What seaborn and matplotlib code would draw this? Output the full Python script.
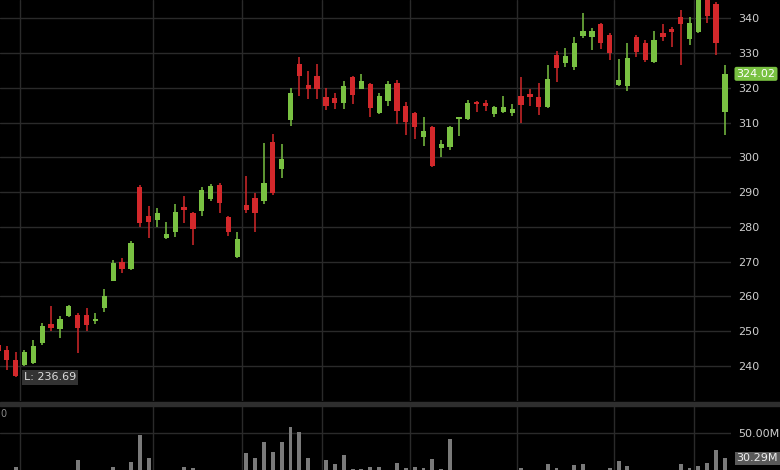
import numpy as np
import pandas as pd
import matplotlib
matplotlib.use("Agg")
import matplotlib.pyplot as plt
from matplotlib.patches import Rectangle
import seaborn as sns

# daily candles (oldest first)
opens = [245.9, 244.6, 241.7, 240.3, 240.8, 246.7, 252.1, 250.5, 254.4, 254.7,
         254.7, 252.8, 256.6, 264.5, 270.0, 267.8, 291.6, 283.0, 282.0, 276.7,
         278.6, 285.6, 284.1, 284.7, 287.9, 292.1, 282.8, 271.3, 286.3, 288.2,
         287.5, 304.5, 296.6, 310.8, 326.9, 320.8, 323.4, 317.4, 317.0, 315.5,
         323.0, 319.6, 321.1, 312.7, 316.3, 321.3, 314.8, 312.7, 305.8, 308.8,
         302.6, 302.9, 310.9, 310.9, 316.0, 315.7, 312.5, 313.1, 312.8, 317.5,
         318.1, 317.3, 314.4, 329.4, 327.0, 326.1, 334.9, 334.7, 338.4, 335.2,
         320.8, 320.5, 334.5, 332.8, 327.5, 335.9, 336.8, 340.5, 334.0, 336.1,
         346.5, 344.1, 312.9]
highs = [246.6, 245.6, 244.1, 244.6, 247.5, 252.3, 257.3, 254.4, 257.5, 255.1,
         256.6, 255.3, 262.1, 270.5, 271.0, 275.8, 292.1, 286.0, 285.4, 281.5,
         286.6, 288.9, 284.4, 291.4, 292.3, 292.5, 283.1, 278.6, 294.6, 289.7,
         304.0, 306.6, 303.8, 319.9, 328.8, 324.9, 326.9, 319.9, 318.4, 322.1,
         323.4, 324.0, 321.3, 318.4, 322.1, 322.3, 316.0, 312.9, 311.7, 309.0,
         305.0, 309.0, 311.7, 316.5, 316.3, 316.5, 314.8, 317.6, 315.3, 323.0,
         319.6, 321.5, 326.6, 330.7, 331.4, 334.5, 341.4, 337.1, 338.7, 335.7,
         328.2, 332.8, 335.2, 333.8, 336.4, 338.4, 337.6, 342.4, 340.3, 347.0,
         347.5, 344.8, 326.6]
lows = [243.8, 238.9, 236.69, 240.0, 240.6, 246.0, 249.9, 248.0, 254.0, 243.8,
        249.9, 252.1, 255.6, 264.3, 266.8, 267.6, 280.1, 276.7, 279.9, 276.4,
        277.2, 281.0, 274.8, 283.1, 287.3, 283.9, 277.4, 270.9, 283.9, 278.6,
        286.5, 289.2, 294.0, 309.0, 317.6, 316.7, 316.7, 313.6, 313.8, 313.8,
        315.4, 319.6, 311.5, 312.5, 314.8, 309.6, 306.4, 305.2, 303.3, 297.3,
        300.2, 302.1, 306.1, 310.6, 313.1, 313.4, 311.5, 312.8, 311.9, 310.0,
        314.8, 312.2, 314.1, 321.8, 326.1, 325.1, 334.2, 330.9, 331.1, 328.0,
        320.5, 319.2, 328.8, 327.5, 327.2, 333.6, 331.8, 326.6, 332.3, 335.9,
        338.6, 329.4, 306.4]
closes = [244.4, 241.7, 237.2, 244.1, 245.8, 251.5, 250.8, 253.4, 257.1, 250.8,
          251.8, 253.5, 260.1, 269.7, 267.8, 275.3, 281.2, 281.5, 283.9, 278.0,
          284.4, 284.9, 279.3, 290.6, 291.8, 287.0, 278.4, 276.4, 284.9, 284.1,
          292.7, 289.6, 299.4, 318.4, 323.4, 319.8, 319.8, 314.8, 315.7, 320.5,
          317.9, 322.1, 314.1, 317.6, 321.1, 313.4, 310.3, 308.8, 307.7, 297.5,
          303.8, 308.6, 311.5, 315.7, 315.4, 314.8, 314.4, 314.4, 313.8, 315.1,
          317.3, 314.4, 322.4, 325.6, 329.2, 332.8, 336.4, 336.4, 333.0, 330.1,
          322.3, 328.5, 330.4, 328.0, 333.8, 334.7, 336.1, 338.4, 338.7, 346.0,
          340.7, 333.0, 324.02]
# volume in millions
volumes = [18, 19, 23.3, 17, 16, 18, 19, 15, 14, 29.0,
           17, 15, 20, 23.8, 16, 27.7, 48.5, 30.3, 18, 17,
           19, 23.8, 23.0, 20, 16, 18, 20, 19, 34.7, 30.3,
           43.3, 35.5, 43.3, 55.0, 50.5, 30.3, 20, 29.0, 25.6, 32.9,
           21.7, 21.7, 23.3, 23.3, 19, 26.4, 22.5, 23.3, 22.5, 29.8,
           22.0, 45.1, 18, 17, 15, 14, 16, 15, 17, 23.0,
           18, 19, 25.9, 22.5, 20, 24.8, 25.9, 19, 18, 22.5,
           28.2, 24.3, 20, 19, 18, 17, 20, 25.9, 22.5, 24.3,
           26.9, 36.8, 30.29]
price_ticks = [240, 250, 260, 270, 280, 290, 300, 310, 320, 330, 340]
# period separators (between candles)
grid_x = [2.5, 17.5, 27.5, 36.5, 46.5, 58.5, 69.5, 78.5]
last_price = 324.02
low_price = 236.69
low_idx = 2
last_vol = 30.29

GREEN = "#79c142"
RED = "#d3282b"
GRID = "#2a2a2a"
TXT = "#cfcfcf"

sns.set_theme(style="dark", rc={"axes.facecolor": "black",
                                "figure.facecolor": "black",
                                "grid.color": GRID})
plt.rcParams["font.family"] = ["DejaVu Sans"]

df = pd.DataFrame({"open": opens, "high": highs, "low": lows,
                   "close": closes, "vol": volumes})
df["idx"] = np.arange(len(df))
df["up"] = df["close"] >= df["open"]
df["col"] = np.where(df["up"], GREEN, RED)

W, H = 780, 470
fig = plt.figure(figsize=(W / 100, H / 100), dpi=100)
ax = fig.add_axes([0, 69 / H, 731 / W, 401 / H])
vax = fig.add_axes([0, 0, 731 / W, 65 / H])

# price panel
body_lo = df[["open", "close"]].min(axis=1)
body_h = (df["open"] - df["close"]).abs().clip(lower=0.45)
ax.vlines(df["idx"], df["low"], df["high"], colors=df["col"], lw=1.1, zorder=3)
ax.bar(df["idx"], body_h, bottom=body_lo, width=0.6, color=df["col"],
       linewidth=0, zorder=4)
ax.set_xlim(0.237, 82.68)
ax.set_ylim(229.9, 345.26)
ax.set_yticks(price_ticks)
ax.set_xticks(grid_x)
ax.yaxis.tick_right()
ax.tick_params(axis="y", labelcolor=TXT, labelsize=8, length=0, pad=5)
ax.tick_params(axis="x", labelbottom=False, length=0)
ax.grid(True, color=GRID, lw=1)
for s in ax.spines.values():
    s.set_visible(False)

ax.text(1.0075, last_price, f"{last_price:.2f}", transform=ax.get_yaxis_transform(),
        ha="left", va="center", fontsize=8, color="white",
        bbox=dict(boxstyle="round,pad=0.18", fc=GREEN, ec="none"))
ax.text(low_idx + 0.94, low_price, f"L: {low_price:.2f}", ha="left", va="center",
        fontsize=8, color="#dcdcdc",
        bbox=dict(boxstyle="square,pad=0.2", fc="#333333", ec="none"))

# volume panel
sns.barplot(x=df["idx"], y=df["vol"], native_scale=True, width=0.45,
            color="#7a7a7a", saturation=1, errorbar=None, ax=vax, zorder=3,
            linewidth=0, edgecolor="none")
vax.set_xlim(0.237, 82.68)
vax.set_ylim(21.2, 71.8)
vax.set_xticks(grid_x)
vax.set_yticks([50])
vax.set_yticklabels(["50.00M"])
vax.yaxis.tick_right()
vax.tick_params(axis="y", labelcolor=TXT, labelsize=8, length=0, pad=5)
vax.tick_params(axis="x", labelbottom=False, length=0)
vax.set_xlabel("")
vax.set_ylabel("")
vax.grid(True, color=GRID, lw=1)
for s in vax.spines.values():
    s.set_visible(False)
vax.text(1.0075, last_vol, f"{last_vol:.2f}M", transform=vax.get_yaxis_transform(),
         ha="left", va="center", fontsize=8, color="#eeeeee",
         bbox=dict(boxstyle="square,pad=0.15", fc="#5a5a5a", ec="none"))
vax.text(0.001, 64.8, "0", transform=vax.get_yaxis_transform(), ha="left",
         va="center", fontsize=7, color="#8a8a8a", clip_on=False)

# separator band between the panels
fig.patches.append(Rectangle((0, 64.5 / H), 1, 4 / H, transform=fig.transFigure,
                             color="#2e2e2e", zorder=0))

fig.savefig("out.png", dpi=100, facecolor="black")
